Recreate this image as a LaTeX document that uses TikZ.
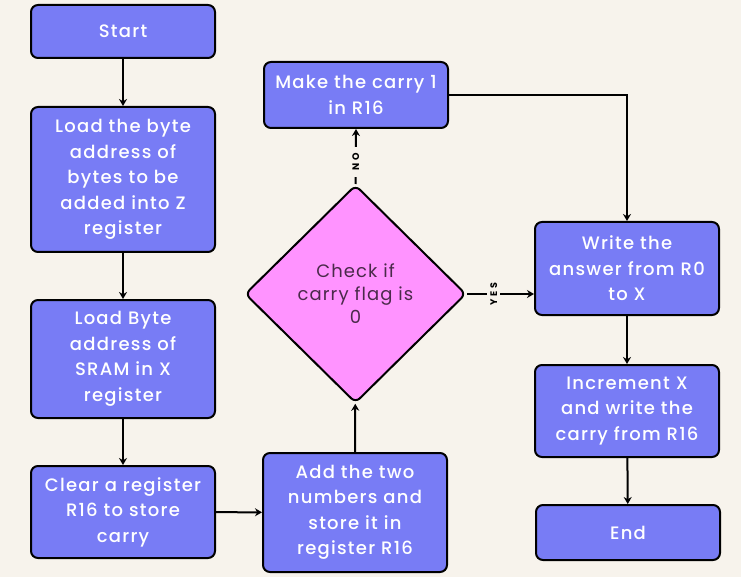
\documentclass[tikz,border=0pt]{standalone}
\usepackage{fontspec}
\setmainfont{Poppins}[BoldFont={Poppins Medium}]
\newfontfamily\labfont{Poppins}[LetterSpace=25]
\usetikzlibrary{shapes.geometric,arrows.meta}
\definecolor{bg}{HTML}{F7F3EC}
\definecolor{boxfill}{HTML}{787CF5}
\definecolor{dfill}{HTML}{FF93FF}
\definecolor{dtext}{HTML}{4A2A4A}
\begin{document}
\begin{tikzpicture}[x=1pt,y=-1pt,
  box/.style={draw=black,line width=2pt,fill=boxfill,rounded corners=7pt,text=white,align=center,
    minimum width=184pt,inner sep=0pt,font=\fontsize{18}{25.5}\selectfont\bfseries\addfontfeatures{LetterSpace=7}},
  dec/.style={draw=black,line width=2pt,fill=dfill,shape=diamond,rounded corners=6pt,text=dtext,align=center,
    minimum width=221pt,minimum height=218pt,inner sep=0pt,font=\fontsize{18}{23}\selectfont\addfontfeatures{LetterSpace=6}},
  arr/.style={line width=2pt,-{Stealth[length=7pt,width=8pt]}},
  lab/.style={fill=bg,rotate=90,inner xsep=7pt,inner ysep=3pt,font=\fontsize{9.5}{9.5}\selectfont\labfont\bfseries}]
\fill[bg] (0,0) rectangle (741,577);
\useasboundingbox (0,0) rectangle (741,577);
\node[box,minimum height=53pt] (start) at (123,31.5) {Start};
\node[box,minimum height=145pt] (load1) at (123,179.5) {Load the byte\\address of\\bytes to be\\added into Z\\register};
\node[box,minimum height=118pt] (load2) at (123,359) {Load Byte\\address of\\SRAM in X\\register};
\node[box,minimum height=92pt] (clear) at (123,512) {Clear a register\\R16 to store\\carry};
\node[box,minimum height=119pt] (add) at (355,512.5) {Add the two\\numbers and\\store it in\\register R16};
\node[dec] (dia) at (355.5,294) {Check if\\carry flag is\\0};
\node[box,minimum height=66pt] (make) at (356,95) {Make the carry 1\\in R16};
\node[box,minimum height=93pt] (write) at (627,268.5) {Write the\\answer from R0\\to X};
\node[box,minimum height=92pt] (inc) at (627,411) {Increment X\\and write the\\carry from R16};
\node[box,minimum height=55pt] (end) at (628,532.5) {End};
\draw[arr] (start) -- (load1);
\draw[arr] (load1) -- (load2);
\draw[arr] (load2) -- (clear);
\draw[arr] (clear) -- (add);
\draw[arr] (add) -- (dia);
\draw[arr] (dia.north) -- node[lab,pos=0.4] {NO} (make.south);
\draw[arr] (dia.east) -- node[lab,pos=0.4] {YES} (write.west |- dia.east);
\draw[arr] (make.east) -| (write.north);
\draw[arr] (write) -- (inc);
\draw[arr] (inc) -- (end);
\end{tikzpicture}
\end{document}
